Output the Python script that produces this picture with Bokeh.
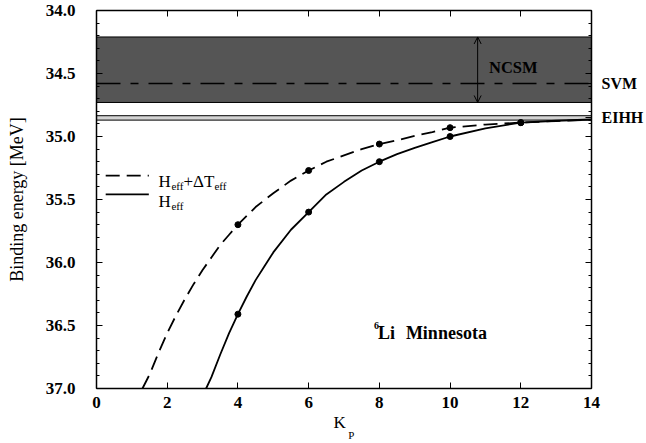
from bokeh.plotting import figure
from bokeh.models import (Range1d, FixedTicker, LinearAxis, Label, Arrow, OpenHead,
                          PrintfTickFormatter)
from bokeh.embed import file_html
from bokeh.resources import INLINE

# ---------------- data ----------------
x_ticks = [0, 2, 4, 6, 8, 10, 12, 14]
y_ticks = [34.0, 34.5, 35.0, 35.5, 36.0, 36.5, 37.0]
y_minor = [round(34.0 + 0.1 * i, 1) for i in range(31)]

kp_points = [4, 6, 8, 10, 12]
e_heff_points = [36.41, 35.60, 35.20, 35.00, 34.89]
e_heff_dt_points = [35.70, 35.27, 35.06, 34.93, 34.89]

kp_curve_heff = [3.1, 3.25, 3.5, 3.75, 4, 4.25, 4.5, 4.75, 5, 5.5, 6, 6.5, 7, 7.5,
                 8, 8.5, 9, 9.5, 10, 11, 12, 13, 14]
e_curve_heff = [37.00, 36.91, 36.73, 36.56, 36.41, 36.27, 36.14, 36.03, 35.92,
                35.74, 35.60, 35.46, 35.36, 35.27, 35.20, 35.14, 35.09, 35.045,
                35.00, 34.935, 34.89, 34.875, 34.865]

kp_curve_dt = [1.3, 1.5, 1.75, 2, 2.25, 2.5, 2.75, 3, 3.25, 3.5, 3.75, 4, 4.5, 5,
               5.5, 6, 6.5, 7, 7.5, 8, 8.5, 9, 9.5, 10, 11, 12, 13, 14]
e_curve_dt = [37.00, 36.89, 36.72, 36.56, 36.42, 36.29, 36.17, 36.06, 35.96,
              35.86, 35.78, 35.70, 35.56, 35.45, 35.35, 35.27, 35.20, 35.15,
              35.10, 35.06, 35.03, 34.995, 34.965, 34.93, 34.905, 34.89, 34.877,
              34.868]

ncsm_band = [34.21, 34.73]
svm_value = 34.58
eihh_band = [34.835, 34.87]
eihh_mid = 34.8525
ncsm_arrow_k = 10.78

FONT = "Liberation Serif"

p = figure(width=646, height=443, output_backend="svg", toolbar_location=None,
           x_range=Range1d(0, 14), y_range=Range1d(37, 34),
           min_border_left=96, min_border_right=53, min_border_top=10,
           min_border_bottom=55)
p.grid.visible = False
p.outline_line_color = None
p.background_fill_color = "white"

xt = FixedTicker(ticks=x_ticks, minor_ticks=[])
yt = FixedTicker(ticks=y_ticks, minor_ticks=y_minor)


def style_axis(ax):
    ax.axis_line_color = "#000000"
    ax.axis_line_width = 1.5
    ax.major_tick_in = 6
    ax.major_tick_out = 0
    ax.minor_tick_in = 3
    ax.minor_tick_out = 0
    ax.major_tick_line_color = "#000000"
    ax.minor_tick_line_color = "#000000"
    ax.major_label_text_font = FONT
    ax.major_label_text_font_style = "bold"
    ax.major_label_text_font_size = "17px"
    ax.major_label_text_color = "#000000"


# bottom axis
bx = p.xaxis[0]
bx.ticker = xt
style_axis(bx)
bx.major_label_standoff = 8
bx.axis_label = "K\u2002"
bx.axis_label_text_font = FONT
bx.axis_label_text_font_style = "normal"
bx.axis_label_text_font_size = "17px"
bx.axis_label_text_color = "#000000"
bx.axis_label_standoff = 2

# subscript P of the x-axis label
sub = LinearAxis(ticker=FixedTicker(ticks=[], minor_ticks=[]))
sub.axis_line_color = None
sub.major_tick_out = 0
sub.major_tick_in = 0
sub.minor_tick_out = 0
sub.minor_tick_in = 0
sub.major_label_standoff = 0
sub.axis_label = "\u2003\u2004P"
sub.axis_label_text_font = FONT
sub.axis_label_text_font_style = "normal"
sub.axis_label_text_font_size = "11px"
sub.axis_label_text_color = "#000000"
sub.axis_label_standoff = -6
p.add_layout(sub, "below")

# left axis
ly = p.yaxis[0]
ly.ticker = yt
ly.formatter = PrintfTickFormatter(format="%.1f")
style_axis(ly)
ly.major_label_standoff = 21
ly.axis_label = "Binding energy [MeV]"
ly.axis_label_text_font = FONT
ly.axis_label_text_font_style = "normal"
ly.axis_label_text_font_size = "18px"
ly.axis_label_text_color = "#000000"
ly.axis_label_standoff = 16

# right axis: mirrored ticks + SVM / EIHH labels
ry = LinearAxis(ticker=FixedTicker(ticks=y_ticks + [svm_value, eihh_mid],
                                   minor_ticks=y_minor))
style_axis(ry)
ry.major_label_text_font_size = "16px"
ry.major_label_standoff = 10
overrides = {t: "" for t in y_ticks}
overrides[svm_value] = "SVM"
overrides[eihh_mid] = "EIHH"
ry.major_label_overrides = overrides
p.add_layout(ry, "right")

# top axis: mirrored ticks only
tx = LinearAxis(ticker=xt)
style_axis(tx)
tx.major_label_text_font_size = "1px"
tx.major_label_standoff = 0
tx.major_label_overrides = {t: "" for t in x_ticks}
p.add_layout(tx, "above")

# bands
p.quad(left=[0], right=[14], bottom=[ncsm_band[1]], top=[ncsm_band[0]],
       fill_color="#555555", line_color="#000000", line_width=1)
p.quad(left=[0], right=[14], bottom=[eihh_band[1]], top=[eihh_band[0]],
       fill_color="#d3d3d3", line_color="#000000", line_width=1)
p.line([0, 14], [svm_value, svm_value], line_color="#000000", line_width=1.5,
       line_dash="24 10 8 10")
p.add_layout(Arrow(x_start=ncsm_arrow_k, x_end=ncsm_arrow_k,
                   y_start=ncsm_band[1], y_end=ncsm_band[0],
                   start=OpenHead(size=7, line_width=1, line_color="#000000"),
                   end=OpenHead(size=7, line_width=1, line_color="#000000"),
                   line_color="#000000", line_width=1))

# curves
p.line(kp_curve_dt, e_curve_dt, line_color="#000000", line_width=1.8,
       line_dash="14 7", line_join="round")
p.line(kp_curve_heff, e_curve_heff, line_color="#000000", line_width=1.8,
       line_join="round")
p.scatter(kp_points, e_heff_dt_points, size=6, color="#000000")
p.scatter(kp_points, e_heff_points, size=6, color="#000000")

# legend
p.line([0.26, 1.48], [35.31, 35.31], line_color="#000000", line_width=1.8,
       line_dash="14 7")
p.line([0.26, 1.48], [35.46, 35.46], line_color="#000000", line_width=1.8)


def lab(x, y, text, size, bold=False, xo=0):
    p.add_layout(Label(x=x, y=y, text=text, x_offset=xo, text_font=FONT,
                       text_font_size=size,
                       text_font_style="bold" if bold else "normal",
                       text_align="left", text_baseline="alphabetic",
                       text_color="#000000"))


lab(1.75, 35.355, "H", "17px")
lab(1.75, 35.39, "eff", "11px", xo=13)
lab(1.75, 35.355, "+ΔT", "17px", xo=25)
lab(1.75, 35.39, "eff", "11px", xo=56)
lab(1.75, 35.515, "H", "17px")
lab(1.75, 35.55, "eff", "11px", xo=13)

# annotations
lab(7.85, 36.50, "6", "10px", bold=True)
lab(7.96, 36.56, "Li", "18px", bold=True)
lab(8.75, 36.56, "Minnesota", "18px", bold=True)
lab(11.1, 34.456, "NCSM", "16.5px", bold=True)

open("out.html", "w").write(file_html(p, INLINE))
